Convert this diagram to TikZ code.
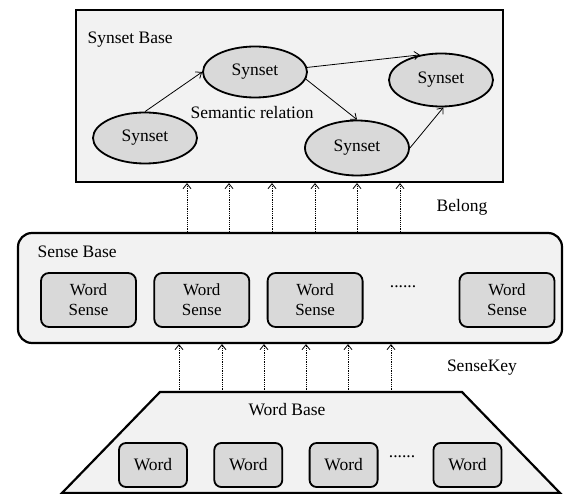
\documentclass[tikz,border=0pt]{standalone}
\usepackage{fontspec}
\setmainfont{Liberation Serif}
\usetikzlibrary{arrows.meta,shapes.geometric,positioning}

\begin{document}
\begin{tikzpicture}[x=1pt, y=-1pt, >={Straight Barb[length=5pt,width=8pt]}, node distance=16.5pt, font=\rmfamily\fontsize{17.5}{19}\selectfont]
    \tikzstyle{base}=[rectangle, draw, line width=2.2pt, fill=gray!10, inner sep=0pt]
    \tikzstyle{synset}=[ellipse, draw, line width=1.8pt, fill=gray!30, minimum width=104pt, minimum height=51pt, inner sep=0pt]
    \tikzstyle{sense}=[rectangle, rounded corners=8pt, draw, line width=1.8pt, fill=gray!30, minimum width=95pt, minimum height=54pt, inner sep=0pt, align=center, font=\rmfamily\fontsize{17}{20}\selectfont]
    \tikzstyle{word}=[rectangle, rounded corners=7pt, draw, line width=1.8pt, fill=gray!30, minimum width=68pt, minimum height=44pt, inner sep=0pt]
    \tikzstyle{rel}=[->, line width=0.8pt]
    \tikzstyle{key}=[->, densely dotted, line width=0.8pt]

    \useasboundingbox (0,0) rectangle (564,494);

    % synset base
    \node[base, minimum width=427pt, minimum height=172pt] (synbase) at (289.5,96) {};
    \node[anchor=west] (synlabel) at (84,40) {Synset Base};
    \node[synset] (syn1) at (145,138) {Synset};
    \node[synset] (syn2) at (255,72) {Synset};
    \node[synset, minimum height=53pt] (syn3) at (441,80) {Synset};
    \node[synset, minimum height=55pt] (syn4) at (357,148) {Synset};
    \node (semrel) at (252,113) {Semantic relation};

    \path
    (syn1.north) edge [rel] (syn2.west)
    (syn2.5)     edge [rel] (syn3.130)
    (syn2.-8)    edge [rel] (syn4.north)
    (syn4.east)  edge [rel] (syn3.-85);

    % sense base
    \node[base, rounded corners=14pt, minimum width=544pt, minimum height=110pt] (sensebase) at (290,288) {};
    \node[anchor=west] (senselabel) at (34,252) {Sense Base};
    \node[sense] (sense1) at (88.5,300) {Word\\Sense};
    \node[sense] (sense2) [right=of sense1] {Word\\Sense};
    \node[sense] (sense3) [right=of sense2] {Word\\Sense};
    \node (sensedots) at (403,287) {......};
    \node[sense] (sense4) at (507,300) {Word\\Sense};

    \node (belong) at (462,207) {Belong};
    \foreach \x in {187,229,272,315,357,400}
        \draw[key] (\x,0 |- sensebase.north) -- (\x,0 |- synbase.south);

    % word base
    \coordinate (wordbase) at (311,392);
    \draw[line width=2.2pt, fill=gray!10] (62,493) -- (160,392) -- (462,392) -- (560,493) -- cycle;
    \node (wordlabel) at (287,410) {Word Base};
    \node[word] (word1) at (153,465) {Word};
    \node[word] (word2) [right=25.5pt of word1] {Word};
    \node[word] (word3) [right=25.5pt of word2] {Word};
    \node (worddots) at (402,457) {......};
    \node[word] (word4) at (467.5,465) {Word};

    \node (sensekey) at (482,368) {SenseKey};
    \foreach \x in {179,222,264,306,348,391}
        \draw[key] (\x,0 |- wordbase) -- (\x,0 |- sensebase.south);

\end{tikzpicture}
\end{document}
